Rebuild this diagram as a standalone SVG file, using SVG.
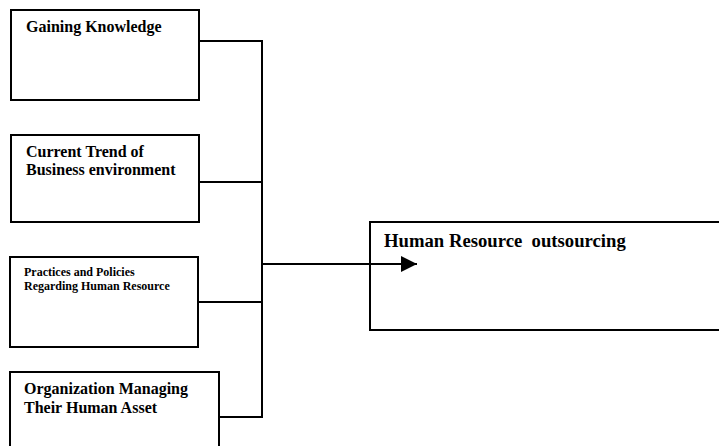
<svg xmlns="http://www.w3.org/2000/svg" width="719" height="446" viewBox="0 0 719 446">
<style>
.box{fill:#fff;stroke:#000;stroke-width:2}
.t{font-family:"Liberation Serif","Times New Roman",serif;font-weight:bold;fill:#000}
.l{font-size:16px}
.s{font-size:12px}
.b{font-size:18.7px;white-space:pre}
.c{fill:none;stroke:#000;stroke-width:2}
</style>
<defs>
<marker id="ah" markerUnits="userSpaceOnUse" markerWidth="16" markerHeight="16" refX="16" refY="8" orient="auto">
<path d="M0,0 L16,8 L0,16 Z" fill="#000"/>
</marker>
</defs>
<rect width="719" height="446" fill="#fff"/>
<g id="n1"><rect class="box" x="11" y="10" width="188" height="90"/><text class="t l" x="26" y="32">Gaining Knowledge</text></g>
<g id="n2"><rect class="box" x="11" y="135" width="188" height="87"/><text class="t l" x="26" y="157">Current Trend of</text><text class="t l" x="26" y="175">Business environment</text></g>
<g id="n3"><rect class="box" x="10" y="257" width="188" height="90"/><text class="t s" x="24" y="276">Practices and Policies</text><text class="t s" x="24" y="289.5">Regarding Human Resource</text></g>
<g id="n4"><rect class="box" x="10" y="372" width="209" height="90"/><text class="t l" x="24" y="394">Organization Managing</text><text class="t l" x="24" y="412.5">Their Human Asset</text></g>
<g id="n5"><rect class="box" x="370" y="222" width="360" height="108"/><text class="t b" x="384" y="247">Human Resource  outsourcing</text></g>
<g id="connectors">
<path class="c" d="M199,41 H262 V417 H219"/>
<path class="c" d="M199,182 H262"/>
<path class="c" d="M198,302 H262"/>
<path class="c" d="M262,264 H417" marker-end="url(#ah)"/>
</g>
</svg>
